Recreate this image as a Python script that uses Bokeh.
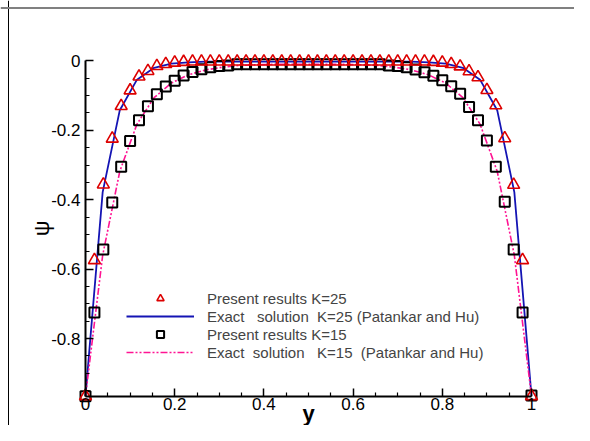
from bokeh.plotting import figure
from bokeh.models import Legend, LegendItem, FixedTicker, Range1d, Span
from bokeh.embed import file_html
from bokeh.resources import INLINE

# ---- data ----
x_pts = [0.00, 0.02, 0.04, 0.06, 0.08, 0.10, 0.12, 0.14, 0.16, 0.18,
         0.20, 0.22, 0.24, 0.26, 0.28, 0.30, 0.32, 0.34, 0.36, 0.38,
         0.40, 0.42, 0.44, 0.46, 0.48, 0.50, 0.52, 0.54, 0.56, 0.58,
         0.60, 0.62, 0.64, 0.66, 0.68, 0.70, 0.72, 0.74, 0.76, 0.78,
         0.80, 0.82, 0.84, 0.86, 0.88, 0.90, 0.92, 0.94, 0.96, 0.98, 1.00]

psi_k25 = [-0.966, -0.574, -0.356, -0.224, -0.130, -0.085, -0.045, -0.029, -0.015, -0.009,
           -0.005, -0.003, -0.002, -0.002, -0.002, -0.002, -0.002, -0.002, -0.002, -0.002,
           -0.002, -0.002, -0.002, -0.002, -0.002, -0.002, -0.002, -0.002, -0.002, -0.002,
           -0.002, -0.002, -0.002, -0.002, -0.002, -0.002, -0.002, -0.002, -0.002, -0.003,
           -0.005, -0.009, -0.016, -0.030, -0.047, -0.084, -0.128, -0.223, -0.357, -0.574, -0.966]

psi_k15 = [-0.966, -0.725, -0.543, -0.408, -0.305, -0.231, -0.171, -0.131, -0.096, -0.074,
           -0.057, -0.042, -0.032, -0.024, -0.018, -0.015, -0.013, -0.010, -0.010, -0.010,
           -0.010, -0.010, -0.010, -0.010, -0.010, -0.010, -0.010, -0.010, -0.010, -0.010,
           -0.010, -0.010, -0.010, -0.010, -0.013, -0.015, -0.018, -0.025, -0.033, -0.043,
           -0.056, -0.073, -0.095, -0.133, -0.171, -0.229, -0.305, -0.406, -0.543, -0.725, -0.964]

x_exact = [0.0, 0.0385, 0.0769, 0.1154, 0.1538, 0.1923, 0.2308, 0.2692, 0.3077, 0.3462,
           0.3846, 0.4231, 0.4615, 0.5, 0.5385, 0.5769, 0.6154, 0.6538, 0.6923, 0.7308,
           0.7692, 0.8077, 0.8462, 0.8846, 0.9231, 0.9615, 1.0]

exact_k25 = [-0.966, -0.378, -0.142, -0.054, -0.020, -0.008, -0.004, -0.002, -0.002, -0.002,
             -0.002, -0.002, -0.002, -0.002, -0.002, -0.002, -0.002, -0.002, -0.002, -0.002,
             -0.004, -0.008, -0.020, -0.054, -0.142, -0.378, -0.966]

exact_k15 = [-0.966, -0.560, -0.318, -0.182, -0.106, -0.064, -0.040, -0.026, -0.018, -0.013,
             -0.011, -0.010, -0.010, -0.010, -0.010, -0.010, -0.011, -0.013, -0.018, -0.026,
             -0.040, -0.064, -0.106, -0.182, -0.318, -0.560, -0.966]

x_ticks = [0, 0.2, 0.4, 0.6, 0.8, 1]
x_tick_labels = ["0", "0.2", "0.4", "0.6", "0.8", "1"]
x_minor = [0.05, 0.1, 0.15, 0.25, 0.3, 0.35, 0.45, 0.5, 0.55, 0.65, 0.7, 0.75, 0.85, 0.9, 0.95]
y_ticks = [-0.8, -0.6, -0.4, -0.2, 0]
y_tick_labels = ["-0.8", "-0.6", "-0.4", "-0.2", "0"]
y_minor = [-0.95, -0.9, -0.85, -0.75, -0.7, -0.65, -0.55, -0.5, -0.45, -0.35, -0.3, -0.25,
           -0.15, -0.1, -0.05]
x_lo, x_hi = 0.0, 1.0
y_lo, y_hi = -0.966, 0.0

labels = ["Present results K=25",
          "Exact\u00a0\u00a0 solution\u00a0 K=25 (Patankar and Hu)",
          "Present results K=15",
          "Exact\u00a0 solution\u00a0\u00a0 K=15\u00a0 (Patankar and Hu)"]

FONT = "Liberation Sans"

# layout: the frame fills the whole canvas; ranges chosen so the axes sit where the reference has them
W, H = 574, 425
px0, px1 = 85.0, 531.0        # canvas x of y=0 and y=1
py0, pyl = 60.4, 395.7        # canvas y of psi=0 and psi=-0.966
sx = (px1 - px0) / (x_hi - x_lo)
sy = (pyl - py0) / (y_hi - y_lo)
xr = Range1d(x_lo - px0 / sx, x_lo + (W - px0) / sx)
yr = Range1d(y_hi - (H - py0) / sy, y_hi + py0 / sy)

p = figure(width=W, height=H, output_backend="svg", toolbar_location=None,
           x_range=xr, y_range=yr, min_border=0,
           min_border_left=0, min_border_right=0, min_border_top=0, min_border_bottom=0)
p.xgrid.visible = False
p.ygrid.visible = False
p.outline_line_color = None

# page frame lines (left black, top grey) like the reference picture
frame_left = x_lo - (px0 - 8) / sx
frame_top = y_hi + (py0 - 7.5) / sy
p.add_layout(Span(location=frame_left, dimension="height", line_color="black", line_width=1))
p.add_layout(Span(location=frame_top, dimension="width", line_color="#808080", line_width=2))

r_blue = p.line(x_exact, exact_k25, line_color="#1414b4", line_width=1.8)
r_pink = p.line(x_exact, exact_k15, line_color="#ff1493", line_width=1.6, line_dash="7 2 2 2 2 2")
r_sq = p.scatter(x_pts, psi_k15, marker="square", size=10, fill_color=None,
                 line_color="black", line_width=2)
r_tri = p.scatter(x_pts, psi_k25, marker="triangle", size=12, fill_color=None,
                  line_color="#dd0000", line_width=1.6)

for ax in (p.xaxis[0], p.yaxis[0]):
    ax.axis_line_width = 2
    ax.axis_line_color = "black"
    ax.major_tick_in = 8
    ax.major_tick_out = 0
    ax.minor_tick_in = 4
    ax.minor_tick_out = 0
    ax.major_tick_line_width = 1.5
    ax.minor_tick_line_width = 1.2
    ax.major_label_text_font = FONT
    ax.major_label_text_font_size = "17px"
    ax.major_label_text_color = "black"
    ax.axis_label_text_font = FONT
    ax.axis_label_text_color = "black"

xa = p.xaxis[0]
xa.fixed_location = y_lo
xa.bounds = (x_lo, x_hi)
xa.ticker = FixedTicker(ticks=x_ticks, minor_ticks=x_minor)
xa.major_label_overrides = {float(t): s for t, s in zip(x_ticks, x_tick_labels)}
xa.major_label_standoff = 2
xa.axis_label = "y"
xa.axis_label_text_font_style = "bold"
xa.axis_label_text_font_size = "22px"
xa.axis_label_standoff = -13

ya = p.yaxis[0]
ya.fixed_location = x_lo
ya.bounds = (y_lo, y_hi)
ya.ticker = FixedTicker(ticks=y_ticks, minor_ticks=y_minor)
ya.major_label_overrides = {float(t): s for t, s in zip(y_ticks, y_tick_labels)}
ya.major_label_standoff = 5
ya.axis_label = "\u03c8"
ya.axis_label_text_font_style = "normal"
ya.axis_label_text_font_size = "22px"
ya.axis_label_standoff = -6

legend = Legend(items=[LegendItem(label=labels[0], renderers=[r_tri]),
                       LegendItem(label=labels[1], renderers=[r_blue]),
                       LegendItem(label=labels[2], renderers=[r_sq]),
                       LegendItem(label=labels[3], renderers=[r_pink])],
                location=(126, H - 361), padding=0, margin=0, spacing=0,
                glyph_width=68, glyph_height=18, label_height=18, label_standoff=13,
                label_text_font=FONT, label_text_font_size="15px",
                border_line_color=None, background_fill_alpha=0)
p.add_layout(legend)

open("out.html", "w").write(file_html(p, INLINE))
